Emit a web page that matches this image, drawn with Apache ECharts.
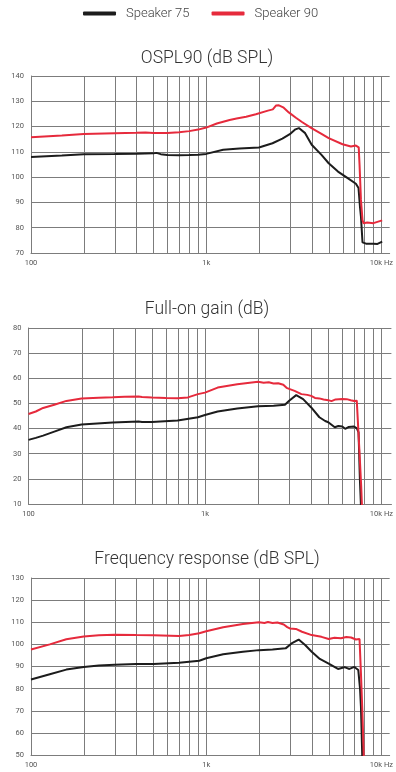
<!DOCTYPE html>
<html><head><meta charset="utf-8">
<script src="https://cdn.jsdelivr.net/npm/echarts@6/dist/echarts.min.js"></script>
<style>html,body{margin:0;padding:0;background:#fff}#c{width:396px;height:772px}</style>
</head><body><div id="c"></div>
<script>
// ---- Data ----
const seriesNames = ['Speaker 75', 'Speaker 90'];
const chartTitles = ['OSPL90 (dB SPL)', 'Full-on gain (dB)', 'Frequency response (dB SPL)'];
const xTickLabels = {100: '100', 1000: '1k', 10000: '10k Hz'};
const gridFreqs = [200,300,400,500,600,700,800,900,1000,2000,3000,4000,5000,6000,7000,8000,9000,10000];

// OSPL90
const osplFreq75 = [100,150,200,300,400,500,520,550,600,700,800,900,1000,1250,1550,2000,2390,2720,3000,3230,3380,3670,4000,4550,5000,5650,6420,7150,7400,7550,7640,7800,8170,9000,9500,10100];
const osplVal75  = [108.0,108.6,109.1,109.2,109.3,109.4,109.6,109.1,108.8,108.7,108.8,108.9,109.2,110.8,111.3,111.7,113.4,115.2,117.0,118.9,119.4,117.4,112.8,108.8,105.5,102.2,99.6,97.4,95.7,88.0,84.5,74.2,73.7,73.7,73.6,74.5];
const osplFreq90 = [100,150,200,300,400,450,500,600,700,800,900,1000,1150,1360,1490,1690,1920,2250,2400,2500,2600,2750,2960,3250,3520,3990,4550,5000,6000,6700,7150,7420,7500,7640,7800,7900,8300,9000,10100];
const osplVal90  = [115.8,116.5,117.1,117.4,117.6,117.7,117.5,117.5,117.8,118.2,118.8,119.6,121.2,122.6,123.2,123.9,124.9,126.3,126.8,128.3,128.4,127.6,125.6,123.5,121.8,119.4,117.1,115.4,113.0,112.1,112.5,111.8,105.0,91.0,83.0,81.8,82.1,81.8,82.9];

// Full-on gain
const gainFreq75 = [100,110,121,140,164,200,300,420,428,440,500,700,913,1000,1180,1525,2000,2450,2840,3000,3290,3600,4000,4450,4800,5000,5440,5700,6000,6230,6500,7000,7260,7420,7550,7700];
const gainVal75  = [35.5,36.3,37.2,38.8,40.5,41.6,42.4,42.8,43.4,42.6,42.6,43.2,44.5,45.4,46.8,48.0,48.9,49.1,49.5,51.1,53.3,51.7,48.4,44.5,43.0,42.5,40.5,41.0,40.8,39.9,40.6,40.8,40.1,38.5,20.0,5.0];
const gainFreq90 = [100,110,121,140,164,200,250,300,350,420,428,440,500,600,700,800,913,1000,1180,1525,2000,2150,2300,2447,2600,2780,2900,3000,3220,3520,3800,4000,4200,4450,4700,5000,5210,5500,6000,6360,6700,7000,7250,7420,7520,7680,7800];
const gainVal90  = [45.8,46.8,48.2,49.5,51.0,52.0,52.3,52.5,52.7,52.8,53.2,52.6,52.4,52.2,52.1,52.4,53.7,54.3,56.3,57.6,58.6,58.2,58.4,57.9,58.0,57.4,56.2,55.8,55.0,53.7,53.4,53.0,52.2,52.0,51.6,51.3,50.9,51.6,51.8,51.7,51.3,51.0,51.1,50.9,30.0,17.0,5.0];

// Frequency response
const respFreq75 = [100,128,159,200,244,300,400,500,700,913,1000,1250,1620,2000,2390,2840,3070,3370,3670,4000,4450,5000,5650,6150,6570,7010,7380,7550,7640,7800];
const respVal75  = [84.1,86.5,88.6,89.8,90.5,90.8,91.1,91.1,91.7,92.6,93.7,95.5,96.7,97.4,97.7,98.2,100.4,102.2,99.7,96.7,93.4,91.3,88.9,89.7,88.9,89.8,88.4,80.0,72.0,45.0];
const respFreq90 = [100,128,159,200,244,300,400,500,700,800,913,1000,1250,1620,2000,2150,2250,2390,2550,2770,2900,3000,3250,3520,4000,4300,4550,5000,5400,5880,6300,6710,7150,7500,7640,7800,7960];
const respVal90  = [97.7,100.0,102.3,103.6,104.1,104.4,104.2,104.1,103.8,104.2,105.0,105.9,107.7,109.2,110.0,109.7,110.1,109.7,109.9,109.0,107.8,107.2,107.0,105.7,104.2,103.8,103.4,102.4,103.0,102.8,103.3,103.1,102.2,102.4,87.0,68.0,45.0];

const yRanges = [[70,140],[10,80],[50,130]];

// ---- Chart ----
const zip = (f, v) => f.map((x, i) => [x, v[i]]);
const colors = ['#1c1c1c', '#e62a3c'];
const gridColor = '#7c7c7c';
const grids = [
  {left: 31, right: 0, top: 76, height: 177, xmax: 11144},
  {left: 28.5, right: 0, top: 328, height: 176, xmax: 11390},
  {left: 31, right: 0, top: 578, height: 177, xmax: 11144}
];
const titleTops = [50, 301, 551];
const data = [
  [zip(osplFreq75, osplVal75), zip(osplFreq90, osplVal90)],
  [zip(gainFreq75, gainVal75), zip(gainFreq90, gainVal90)],
  [zip(respFreq75, respVal75), zip(respFreq90, respVal90)]
];

const option = {
  animation: false,
  backgroundColor: '#fff',
  textStyle: {fontFamily: 'Roboto'},
  legend: {
    top: 7, left: 83, padding: 0, itemWidth: 33, itemHeight: 4, itemGap: 22,
    icon: 'roundRect',
    data: seriesNames,
    textStyle: {fontSize: 13, color: '#444', fontFamily: 'Roboto', fontWeight: 300, padding: [0, 0, 0, 5]}
  },
  title: chartTitles.map((t, i) => ({
    text: t, left: 207, top: titleTops[i], textAlign: 'center', padding: 0,
    textStyle: {fontSize: 17.5, fontWeight: 300, color: '#333', fontFamily: 'Roboto'}
  })),
  grid: grids.map(g => ({left: g.left, right: g.right, top: g.top, height: g.height, containLabel: false})),
  xAxis: grids.map((g, i) => ({
    type: 'log', logBase: 10, gridIndex: i, min: 100, max: g.xmax,
    axisLine: {show: true, lineStyle: {color: gridColor, width: 1}},
    axisTick: {show: false},
    splitLine: {show: false},
    axisLabel: {
      fontSize: 7.5, color: '#555', margin: 6, showMaxLabel: false,
      formatter: v => xTickLabels[Math.round(v)] || ''
    }
  })),
  yAxis: yRanges.map((r, i) => ({
    type: 'value', gridIndex: i, min: r[0], max: r[1], interval: 10,
    axisLine: {show: true, lineStyle: {color: gridColor, width: 1}},
    axisTick: {show: false},
    splitLine: {show: true, lineStyle: {color: gridColor, width: 1}},
    axisLabel: {fontSize: 7.5, color: '#555', margin: 7}
  })),
  series: []
};

for (let i = 0; i < 3; i++) {
  const r = yRanges[i];
  // vertical grid lines, positioned through the log x scale
  option.series.push({
    type: 'custom', xAxisIndex: i, yAxisIndex: i, silent: true, z: 1, clip: false,
    encode: {x: 0, y: [1, 2]},
    data: gridFreqs.map(f => [f, r[0], r[1]]),
    renderItem: (params, api) => {
      const p1 = api.coord([api.value(0), api.value(1)]);
      const p2 = api.coord([api.value(0), api.value(2)]);
      const x = Math.round(p1[0]) + 0.5;
      return {type: 'line', shape: {x1: x, y1: p1[1], x2: x, y2: p2[1]},
              style: {stroke: gridColor, lineWidth: 1}};
    }
  });
  for (let s = 0; s < 2; s++) {
    option.series.push({
      name: seriesNames[s], type: 'line', xAxisIndex: i, yAxisIndex: i,
      data: data[i][s], showSymbol: false, symbol: 'none', z: 10,
      lineStyle: {color: colors[s], width: 2}, itemStyle: {color: colors[s]},
      clip: true
    });
  }
}

const chart = echarts.init(document.getElementById('c'), null, {renderer: 'canvas'});
chart.setOption(option);
</script>
</body></html>
